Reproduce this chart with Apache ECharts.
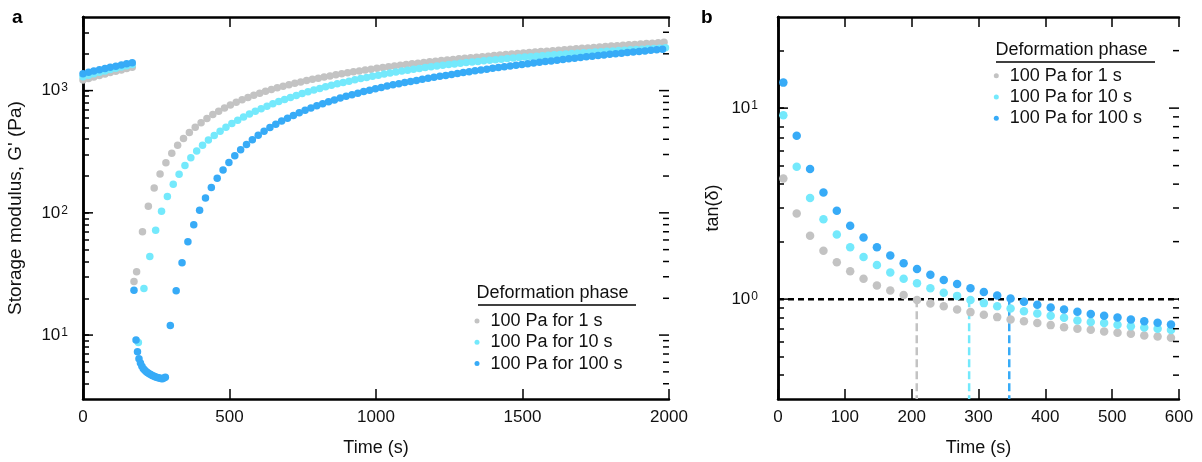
<!DOCTYPE html>
<html><head><meta charset="utf-8">
<script src="https://cdn.jsdelivr.net/npm/echarts@6/dist/echarts.min.js"></script>
<style>html,body{margin:0;padding:0;background:#fff}#c{width:1202px;height:462px}</style>
</head><body><div id="c"></div>
<script>
// ================= DATA =================
const seriesNames = ['100 Pa for 1 s', '100 Pa for 10 s', '100 Pa for 100 s'];
const seriesColors = ['#c3c3c3', '#74e9fc', '#37abf7'];

// ---- panel a : storage modulus G' (Pa) vs time (s) ----
const aTimeTicks = [0, 500, 1000, 1500, 2000];
const aMajorY = [10, 100, 1000];
const aMinorY = [4, 5, 6, 7, 8, 9, 20, 30, 40, 50, 60, 70, 80, 90,
                 200, 300, 400, 500, 600, 700, 800, 900, 2000, 3000];

const preTime = [0, 19, 37, 56, 75, 93, 112, 131, 149, 168];
const preGray = [1220, 1257, 1293, 1330, 1366, 1403, 1440, 1477, 1513, 1550];
const preCyan = [1300, 1337, 1374, 1411, 1448, 1485, 1522, 1559, 1596, 1633];
const preBlue = [1375, 1410, 1445, 1480, 1515, 1550, 1585, 1620, 1655, 1690];

const grayTime = [174, 183,
  203, 223, 243, 263, 283, 303, 323, 343, 363, 383,
  403, 423, 443, 463, 483, 503, 523, 543, 563, 583,
  603, 623, 643, 663, 683, 703, 723, 743, 763, 783,
  803, 823, 843, 863, 883, 903, 923, 943, 963, 983,
  1003, 1023, 1043, 1063, 1083, 1103, 1123, 1143, 1163, 1183,
  1203, 1223, 1243, 1263, 1283, 1303, 1323, 1343, 1363, 1383,
  1403, 1423, 1443, 1463, 1483, 1503, 1523, 1543, 1563, 1583,
  1603, 1623, 1643, 1663, 1683, 1703, 1723, 1743, 1763, 1783,
  1803, 1823, 1843, 1863, 1883, 1903, 1923, 1943, 1963, 1983];
const grayG = [27.5, 33,
  70, 113, 160, 208, 257, 307, 357, 406, 454, 501,
  547, 592, 636, 679, 721, 762, 802, 841, 879, 916,
  952, 987, 1021, 1054, 1086, 1117, 1148, 1178, 1207, 1236,
  1264, 1292, 1319, 1346, 1372, 1398, 1423, 1448, 1472, 1496,
  1520, 1543, 1566, 1589, 1611, 1633, 1655, 1676, 1697, 1718,
  1739, 1759, 1779, 1799, 1819, 1838, 1857, 1876, 1895, 1914,
  1933, 1951, 1970, 1989, 2008, 2027, 2046, 2065, 2084, 2103,
  2122, 2141, 2160, 2179, 2198, 2217, 2236, 2255, 2274, 2293,
  2312, 2331, 2350, 2369, 2388, 2407, 2426, 2445, 2464, 2483];

const cyanTime = [189,
  208, 228, 248, 268, 288, 308, 328, 348, 368, 388,
  408, 428, 448, 468, 488, 508, 528, 548, 568, 588,
  608, 628, 648, 668, 688, 708, 728, 748, 768, 788,
  808, 828, 848, 868, 888, 908, 928, 948, 968, 988,
  1008, 1028, 1048, 1068, 1088, 1108, 1128, 1148, 1168, 1188,
  1208, 1228, 1248, 1268, 1288, 1308, 1328, 1348, 1368, 1388,
  1408, 1428, 1448, 1468, 1488, 1508, 1528, 1548, 1568, 1588,
  1608, 1628, 1648, 1668, 1688, 1708, 1728, 1748, 1768, 1788,
  1808, 1828, 1848, 1868, 1888, 1908, 1928, 1948, 1968, 1988];
const cyanG = [8.7,
  24, 44, 72, 103, 136, 171, 207, 244, 282, 320,
  357, 394, 430, 466, 502, 538, 573, 608, 643, 678,
  712, 746, 780, 814, 847, 880, 913, 945, 978, 1010,
  1042, 1073, 1104, 1135, 1165, 1195, 1224, 1253, 1282, 1310,
  1338, 1365, 1392, 1418, 1444, 1469, 1494, 1518, 1542, 1565,
  1588, 1610, 1632, 1653, 1674, 1694, 1714, 1734, 1753, 1772,
  1791, 1809, 1827, 1845, 1862, 1879, 1896, 1913, 1929, 1945,
  1961, 1977, 1993, 2008, 2023, 2038, 2053, 2068, 2083, 2098,
  2112, 2126, 2140, 2154, 2168, 2182, 2196, 2210, 2224, 2238];

const blueTime = [174, 181, 186, 191, 196, 201, 206, 211, 216, 221, 226,
  231, 236, 241, 246, 251, 256, 261, 266, 271, 276, 281,
  298, 318, 338, 358, 378, 398, 418, 438, 458, 478,
  498, 518, 538, 558, 578, 598, 618, 638, 658, 678,
  698, 718, 738, 758, 778, 798, 818, 838, 858, 878,
  898, 918, 938, 958, 978, 998, 1018, 1038, 1058, 1078,
  1098, 1118, 1138, 1158, 1178, 1198, 1218, 1238, 1258, 1278,
  1298, 1318, 1338, 1358, 1378, 1398, 1418, 1438, 1458, 1478,
  1498, 1518, 1538, 1558, 1578, 1598, 1618, 1638, 1658, 1678,
  1698, 1718, 1738, 1758, 1778, 1798, 1818, 1838, 1858, 1878,
  1898, 1918, 1938, 1958, 1978];
const blueG = [23.3, 9.1, 7.3, 6.4, 5.9, 5.55, 5.3, 5.15, 5.02, 4.92, 4.83,
  4.75, 4.68, 4.62, 4.57, 4.52, 4.48, 4.45, 4.42, 4.40, 4.45, 4.52,
  12, 23, 39, 58, 80, 105, 132, 161, 192, 224,
  258, 293, 328, 363, 397, 431, 465, 498, 531, 563,
  595, 627, 658, 689, 720, 750, 780, 810, 839, 868,
  897, 925, 953, 981, 1008, 1035, 1062, 1088, 1114, 1140,
  1164, 1188, 1212, 1236, 1260, 1284, 1308, 1332, 1356, 1380,
  1404, 1428, 1451, 1474, 1497, 1520, 1543, 1566, 1589, 1612,
  1635, 1658, 1681, 1704, 1727, 1750, 1773, 1796, 1819, 1842,
  1865, 1888, 1911, 1934, 1957, 1980, 2003, 2025, 2047, 2069,
  2091, 2113, 2135, 2157, 2179];

// ---- panel b : tan(delta) vs time (s) ----
const bTimeTicks = [0, 100, 200, 300, 400, 500, 600];
const bMajorY = [1, 10];
const bMinorY = [0.4, 0.5, 0.6, 0.7, 0.8, 0.9, 2, 3, 4, 5, 6, 7, 8, 9, 20];
const tanTime = [8, 28, 48, 68, 88, 108, 128, 148, 168, 188,
  208, 228, 248, 268, 288, 308, 328, 348, 368, 388,
  408, 428, 448, 468, 488, 508, 528, 548, 568, 588];
const tanGray = [4.28, 2.81, 2.15, 1.79, 1.56, 1.40, 1.28, 1.18, 1.11, 1.05,
  0.99, 0.949, 0.919, 0.883, 0.855, 0.828, 0.805, 0.783, 0.767, 0.749,
  0.731, 0.713, 0.700, 0.691, 0.677, 0.667, 0.658, 0.645, 0.637, 0.627];
const tanCyan = [9.19, 4.93, 3.38, 2.62, 2.18, 1.87, 1.66, 1.51, 1.38, 1.28,
  1.21, 1.14, 1.08, 1.04, 0.99, 0.953, 0.919, 0.894, 0.865, 0.841,
  0.818, 0.798, 0.773, 0.760, 0.749, 0.734, 0.722, 0.711, 0.700, 0.689];
const tanBlue = [13.6, 7.16, 4.80, 3.62, 2.90, 2.42, 2.10, 1.87, 1.69, 1.54,
  1.44, 1.34, 1.26, 1.20, 1.14, 1.09, 1.045, 1.008, 0.968, 0.934,
  0.905, 0.883, 0.858, 0.835, 0.818, 0.802, 0.783, 0.767, 0.752, 0.737];
const tanThreshold = 1;
const crossTime = [207.6, 286, 346];

// ================= CHART =================
const FONT = 'Liberation Sans, Arial, Helvetica, sans-serif';
const TXT = '#111';
const zip = (xs, ys) => xs.map((x, i) => [x, ys[i]]);

const A = {x: [0, 2000], y: [3, 4000]};
const B = {x: [0, 600], y: [0.3, 30]};

const frameLine = {show: true, lineStyle: {color: '#000', width: 2.5}};
const majTick = {show: true, inside: true, length: 10, lineStyle: {color: '#000', width: 1.5}};

function xAxes(gi, ext, ticks) {
  const base = {type: 'value', gridIndex: gi, min: ext[0], max: ext[1],
    interval: ticks[1] - ticks[0], splitLine: {show: false}};
  return [
    Object.assign({}, base, {position: 'bottom', axisLine: frameLine, axisTick: majTick,
      axisLabel: {fontSize: 17, color: TXT, fontFamily: FONT, margin: 10, formatter: v => String(v)},
      name: 'Time (s)', nameLocation: 'middle', nameGap: 40,
      nameTextStyle: {fontSize: 18, color: TXT, fontFamily: FONT}}),
    Object.assign({}, base, {position: 'top', axisLine: frameLine, axisTick: majTick,
      axisLabel: {show: false}})
  ];
}
const powLabel = v => '{b|10}{s|' + Math.round(Math.log10(v)) + '}';
const richPow = {
  b: {fontSize: 17, fontFamily: FONT, color: TXT, lineHeight: 17, verticalAlign: 'bottom'},
  s: {fontSize: 12, fontFamily: FONT, color: TXT, lineHeight: 11, verticalAlign: 'top', padding: [0, 0, 0, 1]}
};
function yAxes(gi, ext, majors, minors, labelMargin, name, nameSize, nameGap) {
  const base = {type: 'log', logBase: 10, gridIndex: gi, min: ext[0], max: ext[1], splitLine: {show: false}};
  return [
    // left edge: labels at powers of ten, inward ticks at every major and minor value
    Object.assign({}, base, {position: 'left', axisLine: frameLine,
      axisTick: {show: true, inside: true, length: 6, lineStyle: {color: '#000', width: 1.5},
                 customValues: majors.concat(minors)},
      axisLabel: {customValues: majors, formatter: powLabel, rich: richPow, margin: labelMargin},
      name: name, nameLocation: 'middle', nameGap: nameGap,
      nameTextStyle: {fontSize: nameSize, color: TXT, fontFamily: FONT}}),
    Object.assign({}, base, {position: 'right', axisLine: frameLine,
      axisTick: {show: false}, axisLabel: {show: false}})
  ];
}

// edge ticks as short rect symbols placed by the axes (side 1 = left edge, -1 = right edge)
function edgeTickSeries(xi, yi, xv, values, side, len) {
  return {
    type: 'scatter', xAxisIndex: xi, yAxisIndex: yi, clip: false, z: 10,
    data: values.map(v => [xv, v]),
    symbol: 'rect', symbolSize: [len, 1.5], symbolOffset: [side * len / 2, 0],
    itemStyle: {color: '#000', opacity: 1}, emphasis: {disabled: true}, tooltip: {show: false}
  };
}

const aSeries = [
  zip(preTime.concat(grayTime), preGray.concat(grayG)),
  zip(preTime.concat(cyanTime), preCyan.concat(cyanG)),
  zip(preTime.concat(blueTime), preBlue.concat(blueG))
];
const bSeries = [zip(tanTime, tanGray), zip(tanTime, tanCyan), zip(tanTime, tanBlue)];

const series = [];
// dashed reference lines in panel b
series.push({type: 'line', name: 'ref', xAxisIndex: 2, yAxisIndex: 2, symbol: 'none', silent: true, z: 1,
  data: [[B.x[0], tanThreshold], [B.x[1], tanThreshold]],
  lineStyle: {color: '#000', width: 2.5, type: [6, 4]}});
crossTime.forEach((t, i) => series.push({type: 'line', name: 'cross' + i, xAxisIndex: 2, yAxisIndex: 2,
  symbol: 'none', silent: true, z: 1,
  data: [[t, tanThreshold], [t, B.y[0]]],
  lineStyle: {color: seriesColors[i], width: 2.5, type: [8, 4]}}));
seriesNames.forEach((n, i) => {
  series.push({type: 'scatter', name: n, xAxisIndex: 0, yAxisIndex: 0, data: aSeries[i],
    symbol: 'circle', symbolSize: 7.5, itemStyle: {color: seriesColors[i], opacity: 1}, clip: false, z: 3 + i});
  series.push({type: 'scatter', name: n, xAxisIndex: 2, yAxisIndex: 2, data: bSeries[i],
    symbol: 'circle', symbolSize: 8.5, itemStyle: {color: seriesColors[i], opacity: 1}, clip: false, z: 3 + i});
});
// longer major ticks at both edges, shorter minor ticks at the right edge
series.push(edgeTickSeries(0, 0, A.x[0], aMajorY, 1, 10));
series.push(edgeTickSeries(0, 0, A.x[1], aMajorY, -1, 10));
series.push(edgeTickSeries(0, 0, A.x[1], aMinorY, -1, 6));
series.push(edgeTickSeries(2, 2, B.x[0], bMajorY, 1, 10));
series.push(edgeTickSeries(2, 2, B.x[1], bMajorY, -1, 10));
series.push(edgeTickSeries(2, 2, B.x[1], bMinorY, -1, 6));

const legendCommon = {orient: 'vertical', itemWidth: 17, itemHeight: 5, itemGap: 3.3, icon: 'circle',
  padding: 0, selectedMode: false, data: seriesNames,
  textStyle: {fontSize: 18, lineHeight: 18, color: TXT, fontFamily: FONT}};
const titleStyle = {fontSize: 18, lineHeight: 18, color: TXT, fontFamily: FONT, fontWeight: 'normal'};
const letterStyle = {fontSize: 19, lineHeight: 19, color: '#000', fontFamily: FONT, fontWeight: 'bold'};

const option = {
  animation: false,
  backgroundColor: '#fff',
  title: [
    {text: 'a', left: 12, top: 8, padding: 0, textStyle: letterStyle},
    {text: 'b', left: 701, top: 8, padding: 0, textStyle: letterStyle},
    {text: 'Deformation phase', left: 476.5, top: 284, padding: 0, textStyle: titleStyle},
    {text: 'Deformation phase', left: 995.5, top: 40.7, padding: 0, textStyle: titleStyle}
  ],
  legend: [
    Object.assign({}, legendCommon, {left: 474.5, top: 312}),
    Object.assign({}, legendCommon, {left: 993.8, top: 66.7})
  ],
  graphic: [
    {type: 'line', shape: {x1: 478, y1: 305, x2: 636, y2: 305}, style: {stroke: '#000', lineWidth: 1.5}},
    {type: 'line', shape: {x1: 996, y1: 62, x2: 1155, y2: 62}, style: {stroke: '#000', lineWidth: 1.5}}
  ],
  grid: [
    {left: 83, top: 17, width: 586, height: 383},
    {left: 778, top: 17, width: 401, height: 383}
  ],
  xAxis: xAxes(0, A.x, aTimeTicks).concat(xAxes(1, B.x, bTimeTicks)),
  yAxis: yAxes(0, A.y, aMajorY, aMinorY, 15, "Storage modulus, G' (Pa)", 19, 58)
    .concat(yAxes(1, B.y, bMajorY, bMinorY, 20, 'tan(\u03b4)', 18, 56)),
  series: series
};

const chart = echarts.init(document.getElementById('c'), null, {renderer: 'canvas'});
chart.setOption(option);
</script>
</body></html>
